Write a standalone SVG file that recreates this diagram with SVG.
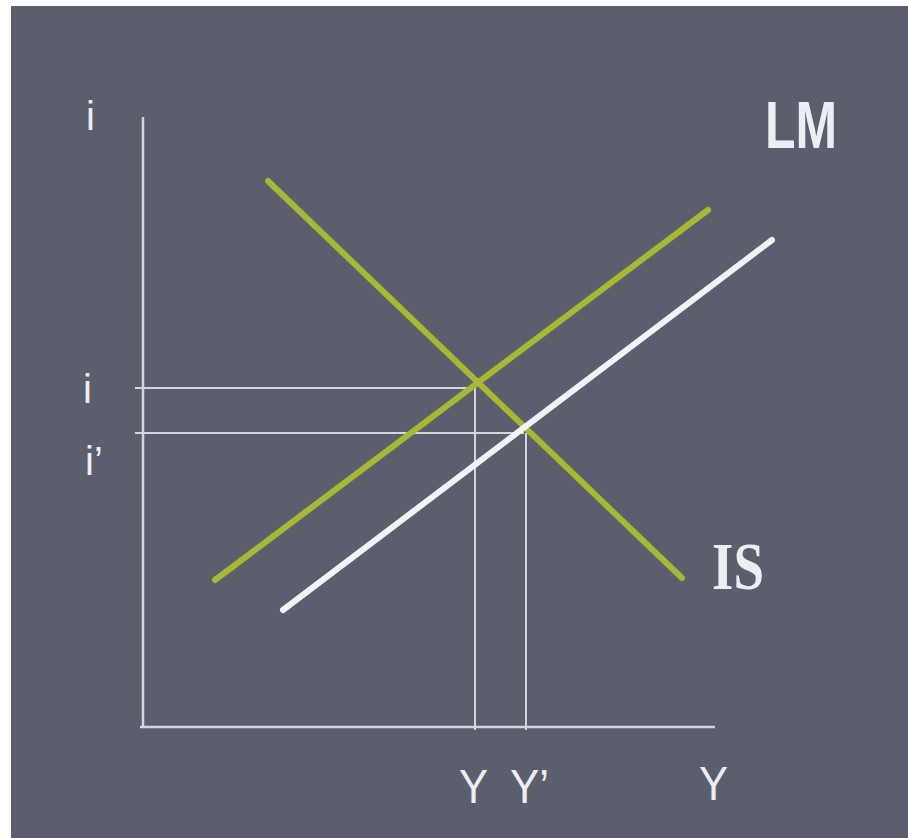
<svg xmlns="http://www.w3.org/2000/svg" width="908" height="838" viewBox="0 0 908 838">
<style>
.axis{stroke:#d4d6de;stroke-width:2.5;fill:none}
.guide{stroke:#d4d6de;stroke-width:2;fill:none}
.green{stroke:#a6b932;stroke-width:6;stroke-linecap:round;fill:none}
.white{stroke:#f4f4f6;stroke-width:6;stroke-linecap:round;fill:none}
.lbl{fill:#eceef2;font-family:"Liberation Sans","DejaVu Sans",sans-serif}
.serif{fill:#eceef2;font-family:"Liberation Serif","DejaVu Serif",serif;font-weight:bold}
</style>
<rect x="0" y="0" width="908" height="838" fill="#ffffff"/>
<rect x="11" y="6" width="897" height="832" fill="#5b5e6d"/>
<g id="axes">
<line class="axis" x1="143" y1="117" x2="143" y2="727"/>
<line class="axis" x1="140" y1="727" x2="715" y2="727"/>
</g>
<g id="connectors">
<line class="guide" x1="135" y1="388" x2="476" y2="388"/>
<line class="guide" x1="475" y1="388" x2="475" y2="730"/>
<line class="guide" x1="135" y1="433" x2="524" y2="433"/>
<line class="guide" x1="526" y1="433" x2="526" y2="730"/>
</g>
<g id="LM">
<line class="green" x1="215" y1="580" x2="708" y2="210"/>
</g>
<g id="IS">
<line class="green" x1="268" y1="181" x2="682" y2="578"/>
</g>
<g id="LM2">
<line class="white" x1="283" y1="610" x2="772" y2="240"/>
</g>
<g id="labels">
<text class="lbl" x="86" y="130" font-size="40">i</text>
<text class="lbl" x="765" y="148" font-size="66" font-weight="bold" textLength="72" lengthAdjust="spacingAndGlyphs">LM</text>
<text class="serif" x="712" y="589" font-size="68" textLength="52" lengthAdjust="spacingAndGlyphs">IS</text>
<text class="lbl" x="83" y="403" font-size="40">i</text>
<text class="lbl" x="85" y="475" font-size="40">i’</text>
<text class="lbl" x="459" y="803" font-size="48" textLength="29" lengthAdjust="spacingAndGlyphs">Y</text>
<text class="lbl" x="510" y="803" font-size="48" textLength="39" lengthAdjust="spacingAndGlyphs">Y’</text>
<text class="lbl" x="699" y="800" font-size="48" textLength="29" lengthAdjust="spacingAndGlyphs">Y</text>
</g>
</svg>
